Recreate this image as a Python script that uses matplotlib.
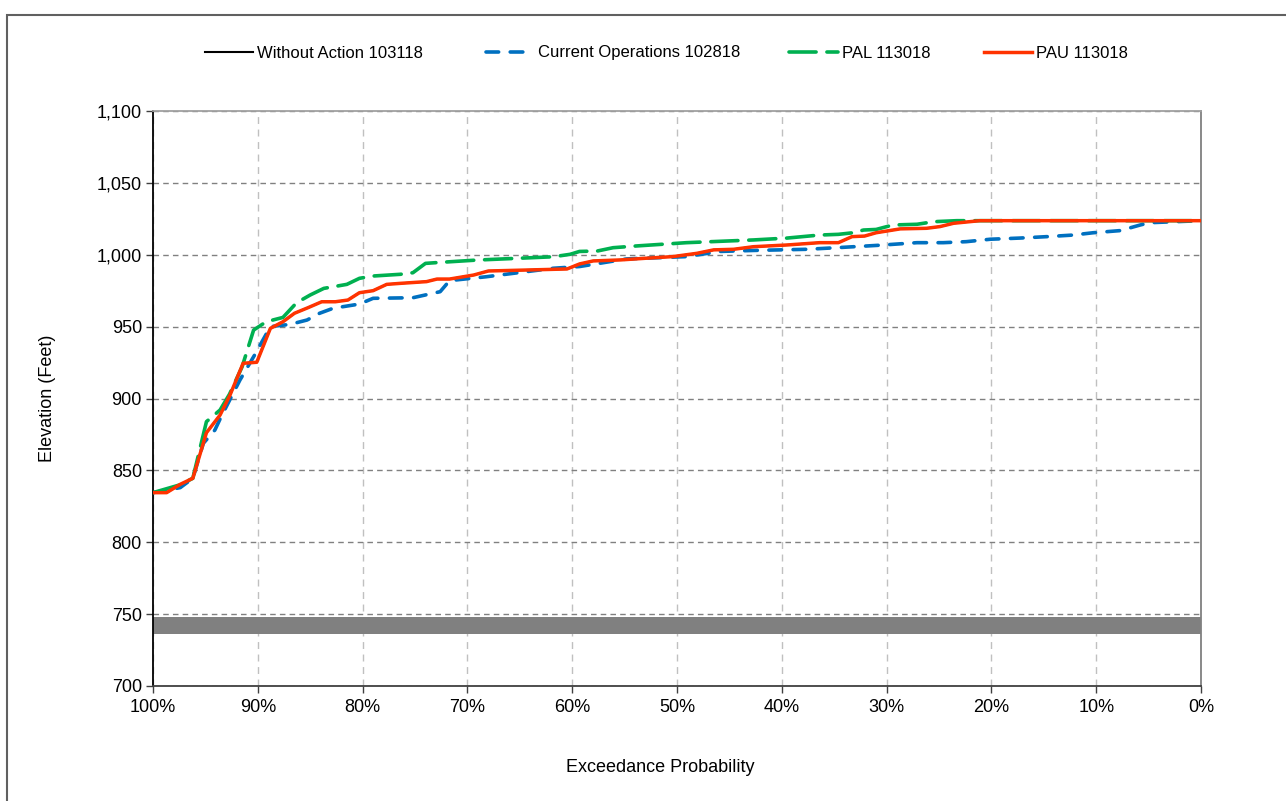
import matplotlib
matplotlib.use("Agg")
import matplotlib.pyplot as plt
from matplotlib.patches import Rectangle
from matplotlib.ticker import FuncFormatter, MultipleLocator

plt.rcParams['font.family'] = ['Liberation Sans', 'DejaVu Sans']

# exceedance probability (%) and elevation (ft)
pau_p = [100, 98.7, 97.4, 96.2, 94.9, 93.6, 92.65, 91.4, 90.1, 88.8, 87.6, 86.5, 85.2,
         83.9, 82.6, 81.4, 80.3, 79.0, 77.7, 76.4, 73.9, 72.9, 71.7, 69.4, 68.0, 60.5,
         59.3, 58.0, 55.4, 52.9, 50.4, 48.1, 46.5, 44.6, 42.7, 39.5, 36.4, 34.6, 33.3,
         32.1, 31.0, 28.7, 26.2, 24.9, 23.6, 21.1, 0]
pau_e = [834.5, 834.5, 840.3, 844.5, 876.2, 888.5, 902.4, 924.5, 925.2, 948.8, 953.4,
         959.3, 963.2, 967.3, 967.3, 968.5, 973.6, 975.0, 979.4, 980.1, 981.3, 983.1,
         983.1, 985.9, 988.7, 990.1, 993.6, 995.7, 996.4, 997.6, 998.7, 1001.0, 1003.4,
         1003.8, 1005.6, 1006.8, 1008.4, 1008.4, 1012.6, 1013.0, 1015.3, 1018.0, 1018.4,
         1019.6, 1021.9, 1023.7, 1023.7]

pal_p = [100, 97.4, 96.2, 94.9, 93.6, 92.7, 91.5, 90.4, 89.2, 87.6, 86.3, 85.0, 83.7,
         81.5, 80.3, 79.0, 76.4, 75.2, 74.0, 72.6, 69.1, 61.8, 60.2, 59.3, 57.6, 56.1,
         53.9, 49.1, 42.7, 39.5, 36.4, 34.6, 33.2, 32.2, 31.0, 29.4, 27.1, 25.5, 23.3, 0]
pal_e = [834.5, 840.0, 844.5, 883.9, 892.0, 903.0, 922.0, 947.6, 953.4, 956.4, 966.6,
         972.0, 976.6, 979.4, 983.6, 985.2, 986.4, 987.5, 994.0, 994.7, 996.3, 998.6,
         1000.3, 1002.3, 1002.6, 1004.9, 1006.1, 1008.4, 1010.3, 1011.6, 1013.7, 1014.2,
         1015.3, 1017.2, 1017.6, 1020.7, 1021.2, 1023.0, 1023.7, 1023.7]

cur_p = [100, 97.4, 96.2, 95.2, 94.1, 93.5, 91.7, 90.3, 88.8, 86.9, 85.3, 84.1, 82.8,
         80.3, 79.0, 75.2, 72.6, 71.7, 68.2, 61.8, 59.3, 54.8, 49.1, 45.9, 42.7, 37.6,
         34.8, 31.9, 30.7, 27.1, 24.6, 22.4, 20.1, 17.3, 14.7, 12.2, 10.3, 7.7, 5.8, 4.9, 0]
cur_e = [834.5, 838.0, 844.5, 868.8, 878.0, 887.3, 912.9, 930.3, 950.0, 951.6, 954.6,
         959.3, 962.8, 965.7, 969.7, 970.1, 974.3, 982.0, 984.7, 990.6, 991.8, 997.1,
         998.7, 1002.3, 1003.0, 1003.8, 1004.9, 1006.1, 1006.6, 1008.4, 1008.4, 1009.1,
         1010.8, 1011.6, 1012.6, 1013.7, 1015.3, 1016.8, 1020.7, 1022.3, 1023.7]

# without action line is hidden under PAU in the picture
wa_p = list(pau_p)
wa_e = list(pau_e)

band_p = [100, 0]
band_low = 736
band_high = 748

W, H = 1286, 801
fig = plt.figure(figsize=(W / 100, H / 100), dpi=100)
ax = fig.add_axes([153/W, 1 - 686/H, (1201 - 153)/W, (686 - 111)/H])

ax.fill_between(band_p, band_low, band_high, color='#808080', lw=0, zorder=2)

l_wa, = ax.plot(wa_p, wa_e, color='black', lw=1.5, label='Without Action 103118', zorder=3)
l_cur, = ax.plot(cur_p, cur_e, color='#0070c0', lw=2.6, dashes=(3.5, 3.2),
                 dash_capstyle='round', label='Current Operations 102818', zorder=4)
l_pal, = ax.plot(pal_p, pal_e, color='#00b050', lw=2.6, dashes=(7.5, 3.0),
                 dash_capstyle='round', label='PAL 113018', zorder=5)
l_pau, = ax.plot(pau_p, pau_e, color='#ff3300', lw=2.5, label='PAU 113018', zorder=6)

ax.set_xlim(100, 0)
ax.set_ylim(700, 1100)
ax.xaxis.set_major_locator(MultipleLocator(10))
ax.yaxis.set_major_locator(MultipleLocator(50))
ax.xaxis.set_major_formatter(FuncFormatter(lambda v, pos: '%d%%' % round(v)))
ax.yaxis.set_major_formatter(FuncFormatter(lambda v, pos: '{:,.0f}'.format(v)))

ax.grid(axis='y', color='#808080', linestyle=(0, (4, 3)), lw=1)
ax.grid(axis='x', color='#c0c0c0', linestyle=(0, (5, 4)), lw=1)
ax.set_axisbelow(True)

ax.spines['left'].set_color('black')
ax.spines['bottom'].set_color('#404040')
ax.spines['right'].set_color('#808080')
ax.spines['top'].set_color('#a0a0a0')
for s in ax.spines.values():
    s.set_linewidth(1.3)
ax.tick_params(axis='both', direction='out', length=5, width=1, labelsize=13,
               color='#404040')
ax.tick_params(axis='x', pad=4)
ax.tick_params(axis='y', pad=3)

ax.set_xlabel('Exceedance Probability', fontsize=13)
ax.set_ylabel('Elevation (Feet)', fontsize=13)
ax.xaxis.set_label_coords((660 - 153) / 1048, -0.127)
ax.yaxis.set_label_coords((56 - 153) / 1048, 0.5)

# legend entries placed one by one, like the original (x = start of the text)
leg_text_x = [257, 538, 842, 1036]
fs = 12
for h, tx in zip([l_wa, l_cur, l_pal, l_pau], leg_text_x):
    x0 = tx - (2.9 + 0.25) * fs * 100 / 72
    fig.legend(handles=[h], loc='center left', bbox_to_anchor=(x0 / W, 1 - 53 / H),
               frameon=False, fontsize=fs, handlelength=2.9, handletextpad=0.25,
               borderpad=0, borderaxespad=0)

# outer frame of the figure
fig.patches.append(Rectangle((7/W, -0.05), 1.1, 1 - 15/H + 0.05,
                             transform=fig.transFigure, fill=False,
                             edgecolor='#606060', lw=1.5))

fig.savefig('out.png', dpi=100)
